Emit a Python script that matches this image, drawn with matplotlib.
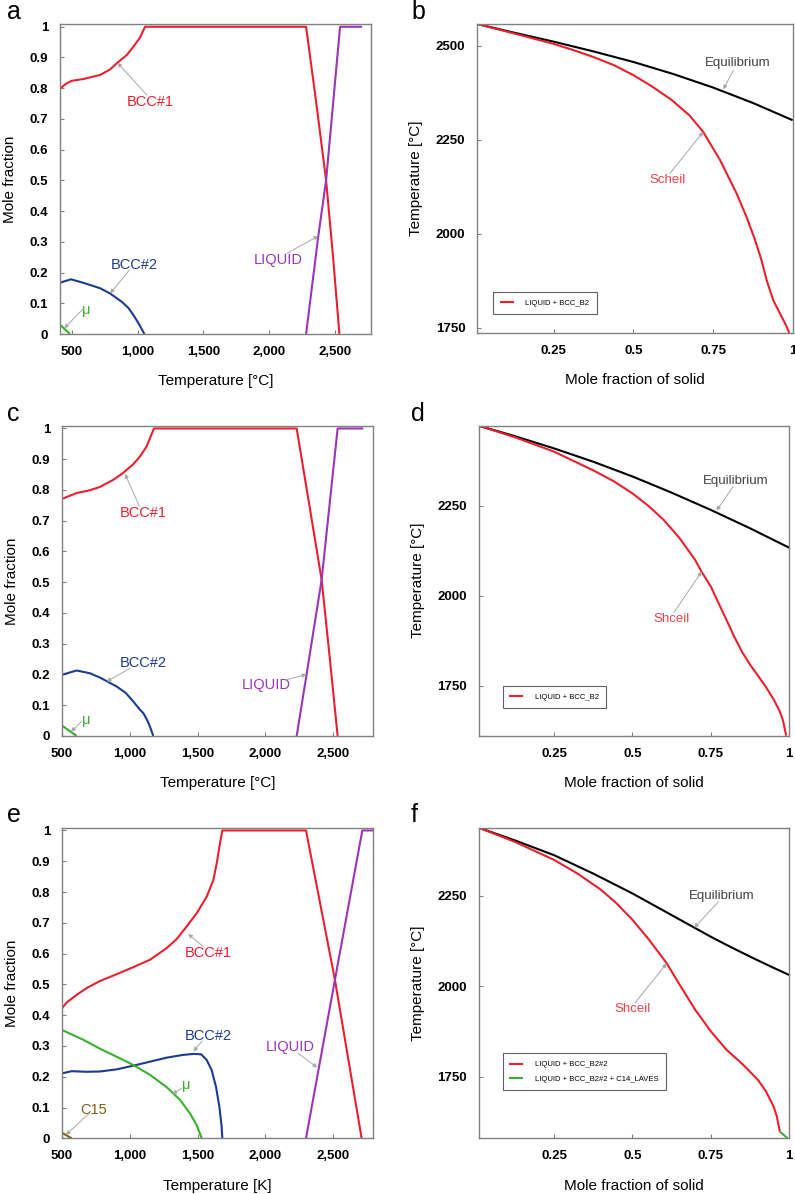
import matplotlib
matplotlib.use("Agg")
import matplotlib.pyplot as plt
from matplotlib.ticker import FuncFormatter

plt.rcParams['font.family'] = ['Liberation Sans', 'DejaVu Sans']

RED = '#e8202e'
BLUE = '#1c3a8e'
GREEN = '#3aae2e'
PURPLE = '#9a35b5'
OLIVE = '#7a6410'
ARROW = '#a8a8a8'
FRAME = '#808080'

# ---- panel a (phase fractions, alloy 1) ----
a_bcc1_T = [411, 462, 500, 589, 715, 791, 842, 918, 968, 1019, 1057,
            2280, 2355, 2432, 2485, 2533]
a_bcc1_f = [0.799, 0.816, 0.824, 0.830, 0.843, 0.861, 0.881, 0.908, 0.935, 0.965, 1.0,
            1.0, 0.76, 0.50, 0.25, 0.0]
a_bcc2_T = [411, 495, 600, 715, 791, 880, 930, 968, 1000, 1020, 1052]
a_bcc2_f = [0.167, 0.178, 0.165, 0.149, 0.132, 0.105, 0.085, 0.062, 0.040, 0.025, 0.0]
a_mu_T = [411, 487]
a_mu_f = [0.03, 0.0]
a_liq_T = [2280, 2373, 2432, 2538, 2705]
a_liq_f = [0.0, 0.32, 0.50, 1.0, 1.0]

# ---- panel c (phase fractions, alloy 2) ----
c_bcc1_T = [500, 608, 706, 780, 878, 952, 1026, 1075, 1124, 1178,
            2230, 2320, 2414, 2475, 2532]
c_bcc1_f = [0.771, 0.790, 0.799, 0.810, 0.833, 0.856, 0.884, 0.909, 0.942, 1.0,
            1.0, 0.76, 0.508, 0.25, 0.0]
c_bcc2_T = [500, 608, 706, 780, 903, 970, 1026, 1070, 1100, 1130, 1149, 1173]
c_bcc2_f = [0.199, 0.213, 0.204, 0.190, 0.161, 0.140, 0.112, 0.088, 0.074, 0.050, 0.030, 0.0]
c_mu_T = [500, 608]
c_mu_f = [0.034, 0.0]
c_liq_T = [2230, 2303, 2414, 2532, 2721]
c_liq_f = [0.0, 0.20, 0.508, 1.0, 1.0]

# ---- panel e (phase fractions, alloy 3) ----
e_bcc1_T = [500, 534, 608, 682, 780, 903, 1026, 1149, 1272, 1345, 1419, 1493, 1567, 1616, 1641, 1665, 1682,
            2299, 2512, 2709]
e_bcc1_f = [0.4225, 0.441, 0.466, 0.488, 0.511, 0.533, 0.556, 0.580, 0.618, 0.647, 0.688, 0.731, 0.785, 0.839,
            0.894, 0.959, 1.0, 1.0, 0.515, 0.0]
e_bcc2_T = [500, 571, 682, 780, 903, 1026, 1149, 1272, 1394, 1468, 1525, 1566, 1603, 1635, 1660, 1677, 1682]
e_bcc2_f = [0.211, 0.218, 0.216, 0.217, 0.224, 0.236, 0.249, 0.262, 0.271, 0.274, 0.273, 0.255, 0.222, 0.168,
            0.103, 0.038, 0.0]
e_mu_T = [500, 657, 780, 903, 1026, 1149, 1272, 1370, 1443, 1493, 1530]
e_mu_f = [0.352, 0.320, 0.291, 0.265, 0.238, 0.206, 0.166, 0.125, 0.081, 0.043, 0.0]
e_c15_T = [500, 571]
e_c15_f = [0.018, 0.0]
e_liq_T = [2299, 2512, 2714, 2800]
e_liq_f = [0.0, 0.515, 1.0, 1.0]

# ---- panel b (solidification, alloy 1) ----
b_eq_x = [0.01, 0.125, 0.25, 0.375, 0.5, 0.625, 0.75, 0.875, 1.0]
b_eq_T = [2558, 2535, 2511, 2485, 2457, 2425, 2389, 2348, 2302]
b_sch_x = [0.01, 0.125, 0.25, 0.31, 0.375, 0.44, 0.5, 0.56, 0.62, 0.677, 0.719, 0.772, 0.824, 0.855,
           0.882, 0.902, 0.918, 0.939, 0.960, 0.981, 0.989]
b_sch_T = [2558, 2533, 2505, 2489, 2470, 2448, 2422, 2391, 2356, 2314, 2271, 2196, 2107, 2045,
           1983, 1930, 1877, 1823, 1788, 1753, 1736]

# ---- panel d (solidification, alloy 2) ----
d_eq_x = [0.01, 0.125, 0.25, 0.375, 0.5, 0.625, 0.75, 0.875, 1.0]
d_eq_T = [2472, 2443, 2409, 2372, 2331, 2286, 2238, 2187, 2133]
d_sch_x = [0.01, 0.125, 0.25, 0.375, 0.44, 0.5, 0.55, 0.6, 0.65, 0.7, 0.72, 0.75, 0.8, 0.825, 0.85,
           0.875, 0.9, 0.925, 0.95, 0.97, 0.98, 0.99]
d_sch_T = [2472, 2440, 2400, 2348, 2318, 2284, 2250, 2210, 2160, 2099, 2067, 2025, 1932, 1885, 1843,
           1808, 1778, 1747, 1712, 1678, 1653, 1611]

# ---- panel f (solidification, alloy 3) ----
f_eq_x = [0.01, 0.125, 0.25, 0.375, 0.5, 0.625, 0.75, 0.81, 0.875, 0.94, 1.0]
f_eq_T = [2439, 2404, 2363, 2312, 2257, 2197, 2137, 2110, 2082, 2055, 2031]
f_sch_x = [0.01, 0.125, 0.25, 0.325, 0.4, 0.45, 0.5, 0.55, 0.609, 0.65, 0.7, 0.75, 0.8, 0.85, 0.9,
           0.925, 0.95, 0.96, 0.97]
f_sch_T = [2439, 2400, 2350, 2312, 2267, 2229, 2184, 2132, 2064, 2005, 1935, 1875, 1824, 1785, 1741,
           1710, 1667, 1640, 1597]
f_c14_x = [0.97, 0.995]
f_c14_T = [1597, 1579]

frac_ticks = [0, 0.1, 0.2, 0.3, 0.4, 0.5, 0.6, 0.7, 0.8, 0.9, 1]
temp_ticks = [500, 1000, 1500, 2000, 2500]
solid_ticks = [0.25, 0.5, 0.75, 1]
scheil_T_ticks = [1750, 2000, 2250, 2500]

fig = plt.figure(figsize=(7.95, 11.94), dpi=100)
W, H = 795, 1194


def axes_px(l, t, r, b):
    return fig.add_axes([l / W, 1 - b / H, (r - l) / W, (b - t) / H])


def style(ax):
    for s in ax.spines.values():
        s.set_color(FRAME)
        s.set_linewidth(1.0)
    ax.tick_params(direction='in', length=3, width=0.8, color=FRAME, labelsize=9.5, pad=8.5)
    for lab in ax.get_xticklabels() + ax.get_yticklabels():
        lab.set_fontweight('bold')


def arrow(ax, tail, head):
    ax.annotate('', xy=head, xytext=tail,
                arrowprops=dict(arrowstyle='-|>', color=ARROW, lw=0.7, mutation_scale=6,
                                shrinkA=0, shrinkB=0))


def comma(v, _):
    return f'{int(v):,}'


def plain(v, _):
    return f'{v:g}'


def curve(ax, x, y, color):
    ax.plot(x, y, color=color, lw=1.5, solid_joinstyle='round', solid_capstyle='butt')


def phase_axes(ax, xlim, xlabel):
    ax.set_xlim(*xlim)
    ax.set_ylim(0, 1.009)
    ax.set_xticks(temp_ticks)
    ax.set_yticks(frac_ticks)
    ax.xaxis.set_major_formatter(FuncFormatter(comma))
    ax.yaxis.set_major_formatter(FuncFormatter(plain))
    ax.set_xlabel(xlabel, fontsize=11, labelpad=12)
    ax.set_ylabel('Mole fraction', fontsize=11, labelpad=9)
    style(ax)


def scheil_axes(ax, ylim):
    ax.set_xlim(0.01, 1.0)
    ax.set_ylim(*ylim)
    ax.set_xticks(solid_ticks)
    ax.set_yticks([t for t in scheil_T_ticks if ylim[0] <= t <= ylim[1]])
    ax.xaxis.set_major_formatter(FuncFormatter(plain))
    ax.set_xlabel('Mole fraction of solid', fontsize=11, labelpad=12)
    ax.set_ylabel('Temperature [°C]', fontsize=11, labelpad=9)
    style(ax)


def legend(ax, labels_colors, anchor):
    handles = [plt.Line2D([], [], color=c, lw=1.5) for _, c in labels_colors]
    leg = ax.legend(handles, [l for l, _ in labels_colors], loc='lower left', bbox_to_anchor=anchor,
                    borderaxespad=0, fontsize=5.5, handlelength=1.6, handletextpad=1.6,
                    borderpad=1.0, labelspacing=0.9, fancybox=False, framealpha=1)
    leg.get_frame().set_edgecolor('#606060')
    leg.get_frame().set_linewidth(0.8)


# panel a
ax = axes_px(60, 24, 371, 334)
curve(ax, a_bcc1_T, a_bcc1_f, RED)
curve(ax, a_liq_T, a_liq_f, PURPLE)
curve(ax, a_bcc2_T, a_bcc2_f, BLUE)
curve(ax, a_mu_T, a_mu_f, GREEN)
phase_axes(ax, (411, 2773), 'Temperature [°C]')
ax.text(1095, 0.756, 'BCC#1', color=RED, fontsize=10.5, ha='center', va='center')
arrow(ax, (1070, 0.778), (847, 0.883))
ax.text(973, 0.224, 'BCC#2', color=BLUE, fontsize=10.5, ha='center', va='center')
arrow(ax, (938, 0.208), (791, 0.132))
ax.text(614, 0.078, 'μ', color=GREEN, fontsize=10.5, ha='center', va='center')
arrow(ax, (589, 0.083), (442, 0.018))
ax.text(2070, 0.241, 'LIQUID', color=PURPLE, fontsize=10.5, ha='center', va='center')
arrow(ax, (2133, 0.262), (2373, 0.319))
fig.text(7 / W, 1 - 12 / H, 'a', fontsize=18, ha='left', va='center')

# panel b
ax = axes_px(477.3, 24, 792.7, 333)
curve(ax, b_eq_x, b_eq_T, 'black')
curve(ax, b_sch_x, b_sch_T, RED)
scheil_axes(ax, (1736, 2558))
ax.text(0.826, 2453, 'Equilibrium', color='#404040', fontsize=9.5, ha='center', va='center')
arrow(ax, (0.814, 2435), (0.782, 2384))
ax.text(0.607, 2143, 'Scheil', color='#f0404a', fontsize=9.5, ha='center', va='center')
arrow(ax, (0.614, 2160), (0.719, 2271))
legend(ax, [('LIQUID + BCC_B2', RED)], (0.051, 0.061))
fig.text(411 / W, 1 - 12 / H, 'b', fontsize=18, ha='left', va='center')

# panel c
ax = axes_px(62, 425.7, 373.3, 736)
curve(ax, c_bcc1_T, c_bcc1_f, RED)
curve(ax, c_liq_T, c_liq_f, PURPLE)
curve(ax, c_bcc2_T, c_bcc2_f, BLUE)
curve(ax, c_mu_T, c_mu_f, GREEN)
phase_axes(ax, (500, 2795), 'Temperature [°C]')
ax.text(1100, 0.725, 'BCC#1', color=RED, fontsize=10.5, ha='center', va='center')
arrow(ax, (1070, 0.747), (964, 0.853))
ax.text(1100, 0.237, 'BCC#2', color=BLUE, fontsize=10.5, ha='center', va='center')
arrow(ax, (1001, 0.22), (829, 0.177))
ax.text(677, 0.052, 'μ', color=GREEN, fontsize=10.5, ha='center', va='center')
arrow(ax, (645, 0.047), (566, 0.014))
ax.text(2009, 0.166, 'LIQUID', color=PURPLE, fontsize=10.5, ha='center', va='center')
arrow(ax, (2144, 0.182), (2303, 0.2))
fig.text(7 / W, 1 - 414 / H, 'c', fontsize=18, ha='left', va='center')

# panel d
ax = axes_px(478.7, 425.7, 789.3, 735.7)
curve(ax, d_eq_x, d_eq_T, 'black')
curve(ax, d_sch_x, d_sch_T, RED)
scheil_axes(ax, (1611, 2472))
ax.text(0.83, 2319, 'Equilibrium', color='#404040', fontsize=9.5, ha='center', va='center')
arrow(ax, (0.821, 2303), (0.768, 2236))
ax.text(0.625, 1934, 'Shceil', color='#f0404a', fontsize=9.5, ha='center', va='center')
arrow(ax, (0.632, 1953), (0.721, 2067))
legend(ax, [('LIQUID + BCC_B2', RED)], (0.077, 0.088))
fig.text(411 / W, 1 - 414 / H, 'd', fontsize=18, ha='left', va='center')

# panel e
ax = axes_px(62, 827.7, 373.3, 1138.3)
curve(ax, e_bcc1_T, e_bcc1_f, RED)
curve(ax, e_liq_T, e_liq_f, PURPLE)
curve(ax, e_bcc2_T, e_bcc2_f, BLUE)
curve(ax, e_mu_T, e_mu_f, GREEN)
curve(ax, e_c15_T, e_c15_f, OLIVE)
phase_axes(ax, (500, 2795), 'Temperature [K]')
ax.text(1579, 0.601, 'BCC#1', color=RED, fontsize=10.5, ha='center', va='center')
arrow(ax, (1541, 0.623), (1430, 0.664))
ax.text(1579, 0.333, 'BCC#2', color=BLUE, fontsize=10.5, ha='center', va='center')
arrow(ax, (1534, 0.316), (1468, 0.282))
ax.text(1414, 0.173, 'μ', color=GREEN, fontsize=10.5, ha='center', va='center')
arrow(ax, (1382, 0.162), (1313, 0.144))
ax.text(2186, 0.298, 'LIQUID', color=PURPLE, fontsize=10.5, ha='center', va='center')
arrow(ax, (2242, 0.276), (2382, 0.23))
ax.text(736, 0.092, 'C15', color=OLIVE, fontsize=10.5, ha='center', va='center')
arrow(ax, (700, 0.081), (529, 0.011))
fig.text(7 / W, 1 - 815 / H, 'e', fontsize=18, ha='left', va='center')

# panel f
ax = axes_px(478.7, 827.7, 789.3, 1138.3)
curve(ax, f_eq_x, f_eq_T, 'black')
curve(ax, f_sch_x, f_sch_T, RED)
curve(ax, f_c14_x, f_c14_T, GREEN)
scheil_axes(ax, (1579, 2439))
ax.text(0.784, 2250, 'Equilibrium', color='#404040', fontsize=9.5, ha='center', va='center')
arrow(ax, (0.774, 2234), (0.697, 2162))
ax.text(0.501, 1937, 'Shceil', color='#f0404a', fontsize=9.5, ha='center', va='center')
arrow(ax, (0.508, 1954), (0.609, 2063))
legend(ax, [('LIQUID + BCC_B2#2', RED), ('LIQUID + BCC_B2#2 + C14_LAVES', GREEN)], (0.077, 0.155))
fig.text(411 / W, 1 - 815 / H, 'f', fontsize=18, ha='left', va='center')

fig.savefig('out.png', dpi=100)
